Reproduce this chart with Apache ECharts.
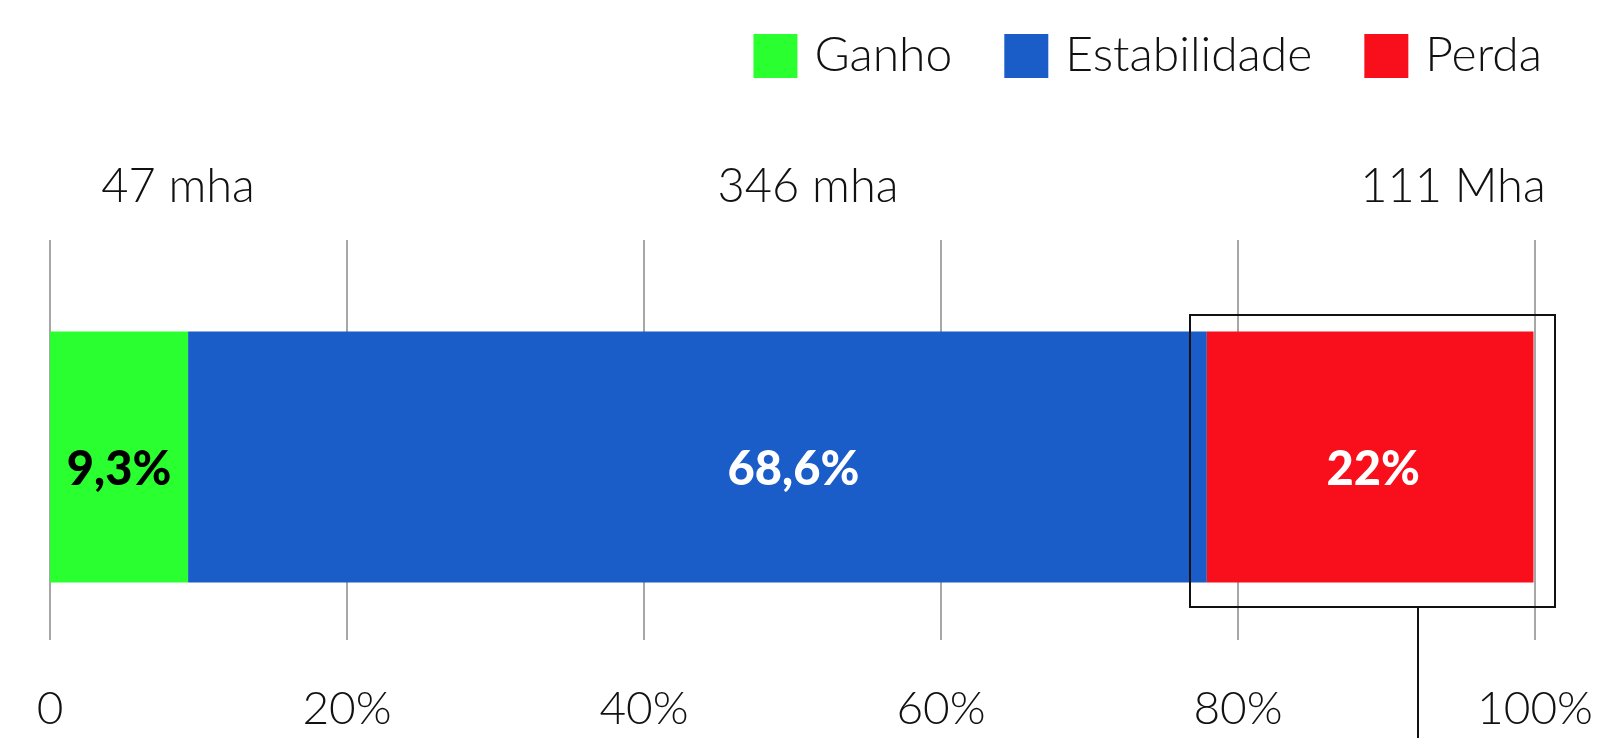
<!DOCTYPE html>
<html>
<head>
<meta charset="utf-8">
<title>Ganho, Estabilidade, Perda</title>
<script src="https://cdn.jsdelivr.net/npm/echarts@6/dist/echarts.min.js"></script>
<style>
  html, body { margin: 0; padding: 0; background: #fff; }
  #chart { width: 1599px; height: 738px; }
</style>
</head>
<body>
<div id="chart"></div>
<script>
// dados
const categories = ['total']
const seriesNames = ['Ganho', 'Estabilidade', 'Perda']
const ganho = [9.3]
const estabilidade = [68.6]
const perda = [22]
const areaLabels = ['47 mha', '346 mha', '111 Mha']
const tickLabels = ['0', '20%', '40%', '60%', '80%', '100%']

const colors = ['#2aff2f', '#1a5cc8', '#f90f1c']
const lightFont = 'Lato'

const fmtPct = (v) => String(v).replace('.', ',') + '%'

const barLabel = (color, dx) => ({
  show: true,
  position: 'inside',
  offset: [dx || 0, 13],
  color: color,
  fontFamily: lightFont,
  fontWeight: 900,
  fontSize: 47,
  formatter: (p) => fmtPct(p.value)
})

const chart = echarts.init(document.getElementById('chart'))

const option = {
  animation: false,
  color: colors,
  legend: {
    data: seriesNames,
    top: 27,
    right: 52,
    itemWidth: 44,
    itemHeight: 44,
    itemGap: 52,
    icon: 'rect',
    textStyle: {
      fontFamily: lightFont,
      fontWeight: 300,
      fontSize: 48,
      color: '#111',
      padding: [0, 0, 0, 12]
    }
  },
  grid: {
    left: 50,
    right: 64,
    top: 274,
    bottom: 98
  },
  xAxis: [
    {
      type: 'value',
      position: 'bottom',
      min: 0,
      max: 100,
      interval: 20,
      axisLine: { show: false },
      axisTick: { show: false },
      splitLine: { show: true, lineStyle: { color: '#8a8a8a', width: 1.5 } },
      axisLabel: {
        margin: 46,
        fontFamily: lightFont,
        fontWeight: 300,
        fontSize: 46,
        color: '#111',
        formatter: (v) => tickLabels[Math.round(v / 20)]
      }
    },
    {
      // só os traços acima da barra
      type: 'value',
      position: 'top',
      min: 0,
      max: 100,
      interval: 20,
      axisLine: { show: false },
      axisTick: { show: true, length: 34, lineStyle: { color: '#8a8a8a', width: 1.5 } },
      axisLabel: { show: false },
      splitLine: { show: false }
    }
  ],
  yAxis: {
    type: 'category',
    data: categories,
    show: false
  },
  series: [
    {
      name: seriesNames[0],
      type: 'bar',
      stack: 'total',
      barWidth: 251,
      data: ganho,
      label: barLabel('#000')
    },
    {
      name: seriesNames[1],
      type: 'bar',
      stack: 'total',
      data: estabilidade,
      label: barLabel('#fff', 96)
    },
    {
      name: seriesNames[2],
      type: 'bar',
      stack: 'total',
      data: perda,
      label: barLabel('#fff', 3)
    }
  ],
  graphic: [
    ...areaLabels.map((t, i) => ({
      type: 'text',
      x: [178, 808, 1453][i],
      y: 187,
      style: {
        text: t,
        align: 'center',
        verticalAlign: 'middle',
        fontFamily: lightFont,
        fontWeight: 300,
        fontSize: 47,
        fill: '#111'
      }
    })),
    {
      type: 'rect',
      z: 100,
      shape: { x: 1190, y: 315, width: 365, height: 292 },
      style: { fill: 'none', stroke: '#111', lineWidth: 2 }
    },
    {
      type: 'line',
      z: 100,
      shape: { x1: 1418, y1: 607, x2: 1418, y2: 740 },
      style: { stroke: '#111', lineWidth: 2 }
    }
  ]
}

chart.setOption(option)
window.addEventListener('resize', function () {
  chart.resize()
})
</script>
</body>
</html>
